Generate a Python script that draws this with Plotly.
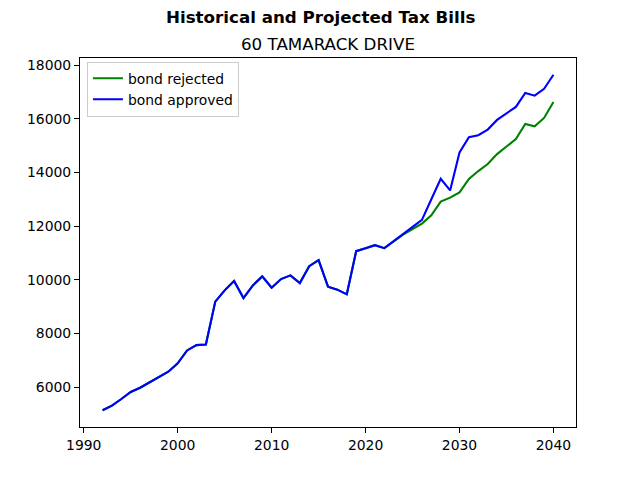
import plotly.graph_objects as go

years = list(range(1992, 2041))

# shared history up to 2024, then the two projections split
history = [
    5136, 5307, 5555, 5816, 5975, 6176, 6384, 6570, 6882, 7365,
    7562, 7587, 9184, 9605, 9950, 9319, 9790, 10125, 9700, 10025,
    10162, 9876, 10507, 10730, 9742, 9631, 9456, 11065, 11176, 11288,
    11176, 11436, 11685,
]
rejected_proj = [
    11890, 12094, 12402, 12911, 13060, 13256, 13754, 14051, 14311,
    14683, 14965, 15240, 15808, 15722, 16031, 16626,
]
approved_proj = [
    11955, 12231, 13000, 13765, 13330, 14743, 15314, 15388, 15597,
    15957, 16205, 16440, 16960, 16860, 17120, 17640,
]

bond_rejected = history + rejected_proj
bond_approved = history + approved_proj

fig = go.Figure()
fig.add_trace(go.Scatter(x=years, y=bond_rejected, mode="lines", name="bond rejected",
                         line=dict(color="green", width=2.1)))
fig.add_trace(go.Scatter(x=years, y=bond_approved, mode="lines", name="bond approved",
                         line=dict(color="blue", width=2.1)))

axis_style = dict(
    showline=True, linecolor="black", linewidth=1, mirror=True,
    ticks="outside", ticklen=5, tickwidth=1, tickcolor="black",
    showgrid=False, zeroline=False,
    tickfont=dict(family="DejaVu Sans", size=13.9, color="black"),
)

fig.update_layout(
    width=640, height=480,
    margin=dict(l=80, r=64, t=57.6, b=52.8),
    paper_bgcolor="white", plot_bgcolor="white",
    font=dict(family="DejaVu Sans", color="black"),
    xaxis=dict(range=[1989.6, 2042.4], tickvals=[1990, 2000, 2010, 2020, 2030, 2040], **axis_style),
    yaxis=dict(range=[4511, 18265], tickvals=[6000, 8000, 10000, 12000, 14000, 16000, 18000],
               tickformat="d", **axis_style),
    legend=dict(x=0.014, y=0.99, xanchor="left", yanchor="top", itemwidth=30,
                bgcolor="rgba(255,255,255,0.8)", bordercolor="#cccccc", borderwidth=1,
                font=dict(family="DejaVu Sans", size=13.9), tracegroupgap=0),
    showlegend=True,
    annotations=[
        dict(text="<b>Historical and Projected Tax Bills</b>", xref="paper", yref="paper",
             x=0.4839, y=1.11, xanchor="center", yanchor="middle", showarrow=False,
             font=dict(family="DejaVu Sans", size=16.7)),
        dict(text="60 TAMARACK DRIVE", xref="paper", yref="paper",
             x=0.5, y=1.037, xanchor="center", yanchor="middle", showarrow=False,
             font=dict(family="DejaVu Sans", size=16.7)),
    ],
)

# drop the default 8px body margin so the figure sits at the page corner
fig.write_html("out.html", config={"displayModeBar": False},
               post_script="document.body.style.margin='0';")
